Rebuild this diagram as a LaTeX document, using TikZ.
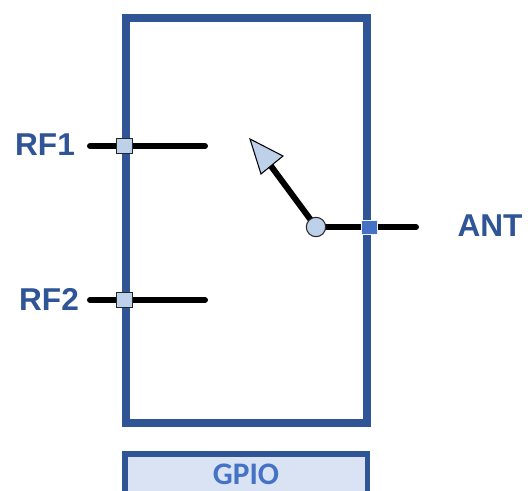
\documentclass[tikz,border=0pt]{standalone}
\usepackage{fontspec}
\setmainfont{Liberation Sans}
\newfontfamily\gpiofont{Carlito}
\usepackage{xcolor}
\usetikzlibrary{shapes.geometric, calc}
\definecolor{swblue}{HTML}{2F5597}
\definecolor{swmid}{HTML}{4472C4}
\definecolor{swlight}{HTML}{BDD1EA}
\definecolor{swpale}{HTML}{DAE3F3}
\tikzset{
  portlabel/.style={text=swblue, inner sep=0pt, font=\fontsize{23.7}{27}\selectfont\bfseries},
  portbox/.style={rectangle, draw=black!85, fill=swlight, line width=0.8pt, minimum width=12.5pt, minimum height=11pt, inner sep=0pt},
  rfline/.style={line width=4.5pt, line cap=round}
}

\begin{document}
\begin{tikzpicture}[x=0.75pt,y=-0.75pt]
\useasboundingbox (0,0) rectangle (528,491);

% Switch body
\node[draw=swblue, line width=6pt, minimum width=180.75pt, minimum height=304pt, inner sep=0pt] (body) at (246.5,220.5) {};

% GPIO block, cut by the lower edge
\fill[swpale] (125,453) rectangle (367.5,491);
\draw[swblue, line width=4.2pt] (125,491) -- (125,454) -- (367.5,454) -- (367.5,491);
\node[text=swmid, inner sep=0pt, font=\fontsize{23.5}{27}\selectfont\gpiofont\bfseries] (gpio) at (246,474.5) {GPIO};

% Free ends of the lines
\coordinate (rf1in) at (90,146);
\coordinate (rf1out) at (205,146);
\coordinate (rf2in) at (90,300);
\coordinate (rf2out) at (205,300);
\coordinate (antout) at (416,227);
\coordinate (armtip) at (268,162);
\coordinate (pivot) at (316,227);

\draw[rfline] (rf1in) -- (rf1out);
\draw[rfline] (rf2in) -- (rf2out);
\draw[rfline] (pivot) -- (antout);
\draw[rfline, line cap=butt] (pivot) -- (armtip);

% Arrow head of the switch arm
\draw[fill=swlight, line width=0.8pt] (250,139) -- (283,156) -- (261,174) -- cycle;
\node[circle, draw=black!85, fill=swlight, line width=0.8pt, minimum size=14.5pt, inner sep=0pt] (arm) at (pivot) {};

% Ports
\foreach \name/\y in {rf1/146,rf2/300} {
  \node[portbox] (\name) at (124.5,\y) {};
}
\node[portbox, draw=white!80!swlight, fill=swmid] (ant) at (369.5,227.5) {};

% Labels
\node[portlabel] (rf1txt) at (45,145) {RF1};
\node[portlabel] (rf2txt) at (49,299) {RF2};
\node[portlabel] (anttxt) at (490,226) {ANT};
\end{tikzpicture}
\end{document}
